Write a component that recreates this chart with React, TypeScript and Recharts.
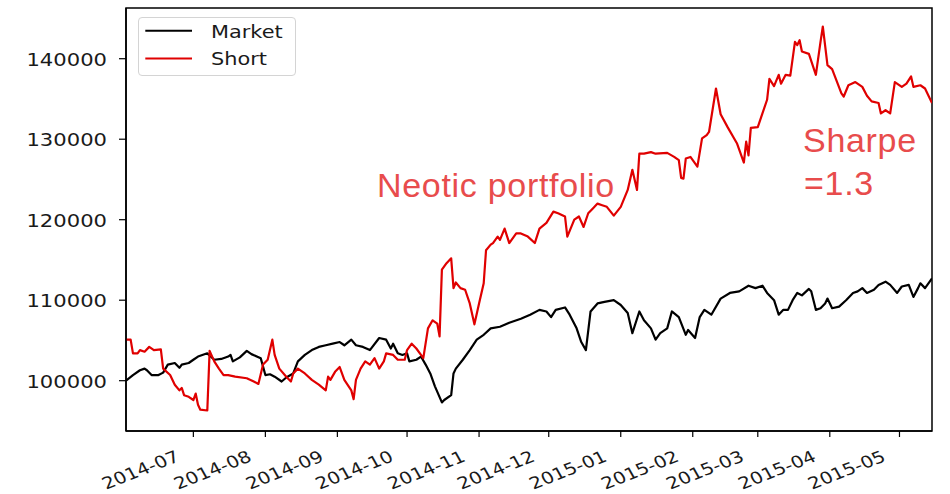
import { LineChart, Line, XAxis, YAxis, ReferenceArea, Legend } from "recharts";

// values
const marketDates = [
  "2014-06-02", "2014-06-05", "2014-06-08", "2014-06-10", "2014-06-11", "2014-06-13", "2014-06-16", "2014-06-18",
  "2014-06-20", "2014-06-23", "2014-06-25", "2014-06-26", "2014-06-29", "2014-07-01", "2014-07-03", "2014-07-07",
  "2014-07-10", "2014-07-13", "2014-07-16", "2014-07-17", "2014-07-18", "2014-07-21", "2014-07-24", "2014-07-26",
  "2014-07-30", "2014-08-01", "2014-08-03", "2014-08-05", "2014-08-08", "2014-08-10", "2014-08-13", "2014-08-15",
  "2014-08-18", "2014-08-21", "2014-08-24", "2014-08-27", "2014-08-30", "2014-09-02", "2014-09-04", "2014-09-07",
  "2014-09-09", "2014-09-12", "2014-09-15", "2014-09-19", "2014-09-22", "2014-09-24", "2014-09-25", "2014-09-27",
  "2014-09-29", "2014-10-01", "2014-10-02", "2014-10-05", "2014-10-07", "2014-10-09", "2014-10-11", "2014-10-13",
  "2014-10-16", "2014-10-17", "2014-10-20", "2014-10-21", "2014-10-22", "2014-10-25", "2014-10-28", "2014-10-31",
  "2014-11-03", "2014-11-06", "2014-11-10", "2014-11-14", "2014-11-19", "2014-11-23", "2014-11-27", "2014-11-30",
  "2014-12-02", "2014-12-04", "2014-12-08", "2014-12-10", "2014-12-13", "2014-12-15", "2014-12-17", "2014-12-19",
  "2014-12-22", "2014-12-25", "2014-12-29", "2015-01-01", "2015-01-04", "2015-01-06", "2015-01-09", "2015-01-11",
  "2015-01-14", "2015-01-16", "2015-01-18", "2015-01-21", "2015-01-23", "2015-01-26", "2015-01-29", "2015-01-30",
  "2015-02-02", "2015-02-04", "2015-02-06", "2015-02-09", "2015-02-13", "2015-02-17", "2015-02-21", "2015-02-25",
  "2015-02-28", "2015-03-03", "2015-03-05", "2015-03-08", "2015-03-10", "2015-03-12", "2015-03-14", "2015-03-16",
  "2015-03-18", "2015-03-20", "2015-03-23", "2015-03-24", "2015-03-26", "2015-03-28", "2015-03-30", "2015-03-31",
  "2015-04-02", "2015-04-05", "2015-04-08", "2015-04-11", "2015-04-13", "2015-04-15", "2015-04-17", "2015-04-20",
  "2015-04-22", "2015-04-25", "2015-04-27", "2015-04-30", "2015-05-02", "2015-05-05", "2015-05-07", "2015-05-09",
  "2015-05-10", "2015-05-12", "2015-05-15",
];
const marketValues = [
  100000, 100700, 101300, 101500, 101300, 100700, 100700, 101000,
  102000, 102200, 101600, 102000, 102200, 102600, 103000, 103400,
  102600, 102700, 103000, 103200, 102400, 102900, 103700, 103300,
  102800, 100700, 100800, 100500, 99900, 100400, 100900, 102400,
  103200, 103800, 104200, 104400, 104600, 104800, 104400, 105100,
  104400, 104200, 103800, 105300, 105100, 104000, 104600, 103400,
  103200, 103400, 102400, 102600, 103000, 102000, 100900, 99300,
  97300, 97600, 98200, 100900, 101500, 102600, 103800, 105100,
  105700, 106500, 106700, 107200, 107700, 108200, 108800, 108600,
  107900, 108800, 109100, 108200, 106500, 104800, 103800, 108600,
  109600, 109800, 110000, 109400, 108400, 105900, 108600, 107500,
  106500, 105100, 105900, 106500, 108600, 107900, 105700, 106300,
  105300, 107900, 108800, 108200, 110200, 110900, 111100, 111800,
  111500, 111800, 110900, 110000, 108200, 108800, 108800, 110000,
  110900, 110600, 111400, 111100, 108800, 109000, 109600, 110200,
  109000, 109200, 110000, 110900, 111100, 111500, 110900, 111300,
  111900, 112300, 111900, 110900, 111700, 111900, 110400, 111500,
  112100, 111500, 112700,
];

const shortDates = [
  "2014-06-02", "2014-06-04", "2014-06-05", "2014-06-07", "2014-06-08", "2014-06-10", "2014-06-12", "2014-06-14",
  "2014-06-17", "2014-06-18", "2014-06-21", "2014-06-23", "2014-06-25", "2014-06-26", "2014-06-27", "2014-06-29",
  "2014-07-01", "2014-07-02", "2014-07-03", "2014-07-04", "2014-07-07", "2014-07-08", "2014-07-10", "2014-07-12",
  "2014-07-14", "2014-07-16", "2014-07-19", "2014-07-24", "2014-07-27", "2014-07-29", "2014-07-31", "2014-08-02",
  "2014-08-04", "2014-08-05", "2014-08-07", "2014-08-10", "2014-08-12", "2014-08-13", "2014-08-15", "2014-08-18",
  "2014-08-21", "2014-08-24", "2014-08-27", "2014-08-28", "2014-08-29", "2014-08-31", "2014-09-02", "2014-09-04",
  "2014-09-07", "2014-09-08", "2014-09-09", "2014-09-11", "2014-09-13", "2014-09-15", "2014-09-17", "2014-09-19",
  "2014-09-21", "2014-09-22", "2014-09-25", "2014-09-27", "2014-09-30", "2014-10-01", "2014-10-03", "2014-10-05",
  "2014-10-07", "2014-10-08", "2014-10-10", "2014-10-12", "2014-10-14", "2014-10-15", "2014-10-16", "2014-10-18",
  "2014-10-20", "2014-10-21", "2014-10-22", "2014-10-24", "2014-10-26", "2014-10-28", "2014-10-30", "2014-11-01",
  "2014-11-03", "2014-11-04", "2014-11-06", "2014-11-07", "2014-11-09", "2014-11-10", "2014-11-12", "2014-11-14",
  "2014-11-17", "2014-11-19", "2014-11-22", "2014-11-25", "2014-11-27", "2014-11-30", "2014-12-03", "2014-12-05",
  "2014-12-08", "2014-12-09", "2014-12-12", "2014-12-14", "2014-12-16", "2014-12-18", "2014-12-20", "2014-12-22",
  "2014-12-24", "2014-12-26", "2014-12-29", "2015-01-01", "2015-01-04", "2015-01-06", "2015-01-08", "2015-01-09",
  "2015-01-11", "2015-01-14", "2015-01-16", "2015-01-21", "2015-01-24", "2015-01-26", "2015-01-27", "2015-01-28",
  "2015-01-29", "2015-01-31", "2015-02-02", "2015-02-03", "2015-02-05", "2015-02-07", "2015-02-08", "2015-02-11",
  "2015-02-13", "2015-02-16", "2015-02-20", "2015-02-23", "2015-02-24", "2015-02-25", "2015-02-26", "2015-03-01",
  "2015-03-03", "2015-03-05", "2015-03-06", "2015-03-08", "2015-03-10", "2015-03-11", "2015-03-13", "2015-03-15",
  "2015-03-17", "2015-03-18", "2015-03-19", "2015-03-20", "2015-03-23", "2015-03-26", "2015-03-28", "2015-03-29",
  "2015-03-31", "2015-04-02", "2015-04-06", "2015-04-07", "2015-04-09", "2015-04-12", "2015-04-15", "2015-04-17",
  "2015-04-19", "2015-04-22", "2015-04-23", "2015-04-25", "2015-04-27", "2015-04-29", "2015-05-02", "2015-05-04",
  "2015-05-06", "2015-05-07", "2015-05-10", "2015-05-12", "2015-05-15",
];
const shortValues = [
  105100, 105100, 103400, 103400, 103800, 103600, 104200, 103800,
  103900, 101500, 100700, 99500, 98800, 99100, 98200, 98000,
  97600, 98400, 97000, 96400, 96300, 103700, 102400, 101500,
  100700, 100700, 100500, 100300, 99900, 99600, 102000, 102600,
  105100, 103200, 101500, 100500, 99900, 100900, 101500, 100900,
  100100, 99500, 98800, 100500, 100100, 101100, 101700, 100100,
  98800, 97700, 100100, 101500, 102400, 102000, 102800, 101500,
  102400, 103400, 103200, 102600, 102600, 103800, 104600, 104000,
  103200, 102800, 106500, 107500, 107100, 105500, 113800, 114600,
  115200, 111500, 112200, 111500, 111300, 109600, 107000, 109600,
  112100, 116200, 116900, 117100, 117900, 117500, 118900, 117100,
  118300, 118300, 117900, 117100, 118900, 119600, 121000, 120800,
  120400, 117900, 120000, 120400, 119100, 120800, 121400, 122000,
  121800, 121600, 120500, 121600, 123700, 126200, 123700, 128200,
  128200, 128400, 128200, 128300, 127800, 127400, 125200, 125100,
  127600, 127800, 127000, 126600, 130100, 130500, 130900, 136300,
  133100, 131500, 129500, 127100, 129700, 128000, 131400, 131500,
  133200, 134900, 137500, 136600, 138000, 136900, 138000, 137900,
  142100, 141700, 142300, 140900, 140600, 138000, 142100, 144000,
  139200, 138700, 135700, 135300, 136700, 137100, 136500, 135400,
  134700, 134500, 133200, 133600, 133200, 137100, 136500, 136900,
  137800, 136500, 136700, 136300, 134500,
];

const monthTicks = [
  "2014-07-01", "2014-08-01", "2014-09-01", "2014-10-01", "2014-11-01", "2014-12-01",
  "2015-01-01", "2015-02-01", "2015-03-01", "2015-04-01", "2015-05-01",
];
const valueTicks = [100000, 110000, 120000, 130000, 140000];
const dateRange = ["2014-06-02", "2015-05-15"];
const valueRange = [93750, 146300];

const toRows = (dates: string[], values: number[]) =>
  dates.map((d, i) => ({ t: Date.parse(d), v: values[i] }));

const marketData = toRows(marketDates, marketValues);
const shortData = toRows(shortDates, shortValues);
const xDomain = dateRange.map((d) => Date.parse(d));

const FONT = "DejaVu Sans";
const TEXT = "#1a1a1a";

function XTick({ x, y, payload }: any) {
  const d = new Date(payload.value);
  const label = `${d.getUTCFullYear()}-${String(d.getUTCMonth() + 1).padStart(2, "0")}`;
  return (
    <g transform={`translate(${x - 12.5},${y + 23.5}) scale(1.2,1) rotate(-25)`}>
      <text textAnchor="end" fontFamily={FONT} fontSize={16.5} fill={TEXT}>
        {label}
      </text>
    </g>
  );
}

function YTick({ x, y, payload }: any) {
  return (
    <g transform={`translate(${x - 10},${y + 7}) scale(1.2,1)`}>
      <text textAnchor="end" fontFamily={FONT} fontSize={17.6} fill={TEXT}>
        {payload.value}
      </text>
    </g>
  );
}

function LegendBox({ payload }: any) {
  return (
    <div
      style={{
        width: 158,
        height: 59,
        boxSizing: "border-box",
        border: "1px solid #d4d4d4",
        borderRadius: 4,
        background: "#fff",
      }}
    >
      <svg width={156} height={57} style={{ display: "block" }}>
        {(payload ?? []).map((p: any, i: number) => (
          <g key={p.value} transform={`translate(0,${i * 27.7})`}>
            <line x1={6.3} x2={53} y1={12.7} y2={12.7} stroke={p.color} strokeWidth={2} />
            <g transform="translate(72,19.7) scale(1.2,1)">
              <text fontFamily={FONT} fontSize={17.4} fill={TEXT}>
                {p.value}
              </text>
            </g>
          </g>
        ))}
      </svg>
    </div>
  );
}

const NOTE = "#e84c4c";

export default function App() {
  return (
    <div style={{ position: "absolute", left: 0, top: 0, width: 950, height: 494, background: "#fff" }}>
      <LineChart width={950} height={494} margin={{ top: 8, right: 18, bottom: 3, left: 0 }}>
        <XAxis
          dataKey="t"
          type="number"
          domain={xDomain}
          ticks={monthTicks.map((d) => Date.parse(d))}
          interval={0}
          allowDataOverflow
          height={60}
          tickSize={6}
          tickMargin={0}
          tick={<XTick />}
          axisLine={{ stroke: "#000", strokeWidth: 1.5 }}
          tickLine={{ stroke: "#000", strokeWidth: 1.2 }}
        />
        <YAxis
          type="number"
          domain={valueRange}
          ticks={valueTicks}
          interval={0}
          allowDataOverflow
          width={126}
          tickSize={7}
          tick={<YTick />}
          axisLine={{ stroke: "#000", strokeWidth: 1.5 }}
          tickLine={{ stroke: "#000", strokeWidth: 1.2 }}
        />
        <Legend
          layout="horizontal"
          verticalAlign="middle"
          align="center"
          wrapperStyle={{ left: 138, top: 17, width: 158, height: 59 }}
          content={<LegendBox />}
        />
        <Line
          data={marketData}
          dataKey="v"
          name="Market"
          stroke="#000000"
          strokeWidth={2.2}
          dot={false}
          isAnimationActive={false}
          strokeLinejoin="round"
        />
        <Line
          data={shortData}
          dataKey="v"
          name="Short"
          stroke="#e00000"
          strokeWidth={2.2}
          dot={false}
          isAnimationActive={false}
          strokeLinejoin="round"
        />
        <ReferenceArea
          x1={xDomain[0]}
          x2={xDomain[1]}
          y1={valueRange[0]}
          y2={valueRange[1]}
          fill="none"
          fillOpacity={0}
          stroke="#000"
          strokeWidth={1.5}
        />
      </LineChart>
      <svg
        width={950}
        height={494}
        style={{ position: "absolute", left: 0, top: 0, pointerEvents: "none" }}
      >
        <g fontFamily="Liberation Sans" fontSize={34} fill={NOTE} letterSpacing={0.7}>
          <text x={377} y={196.7}>Neotic portfolio</text>
          <text x={803} y={151.7}>Sharpe</text>
          <text x={804} y={195}>=1.3</text>
        </g>
      </svg>
    </div>
  );
}
